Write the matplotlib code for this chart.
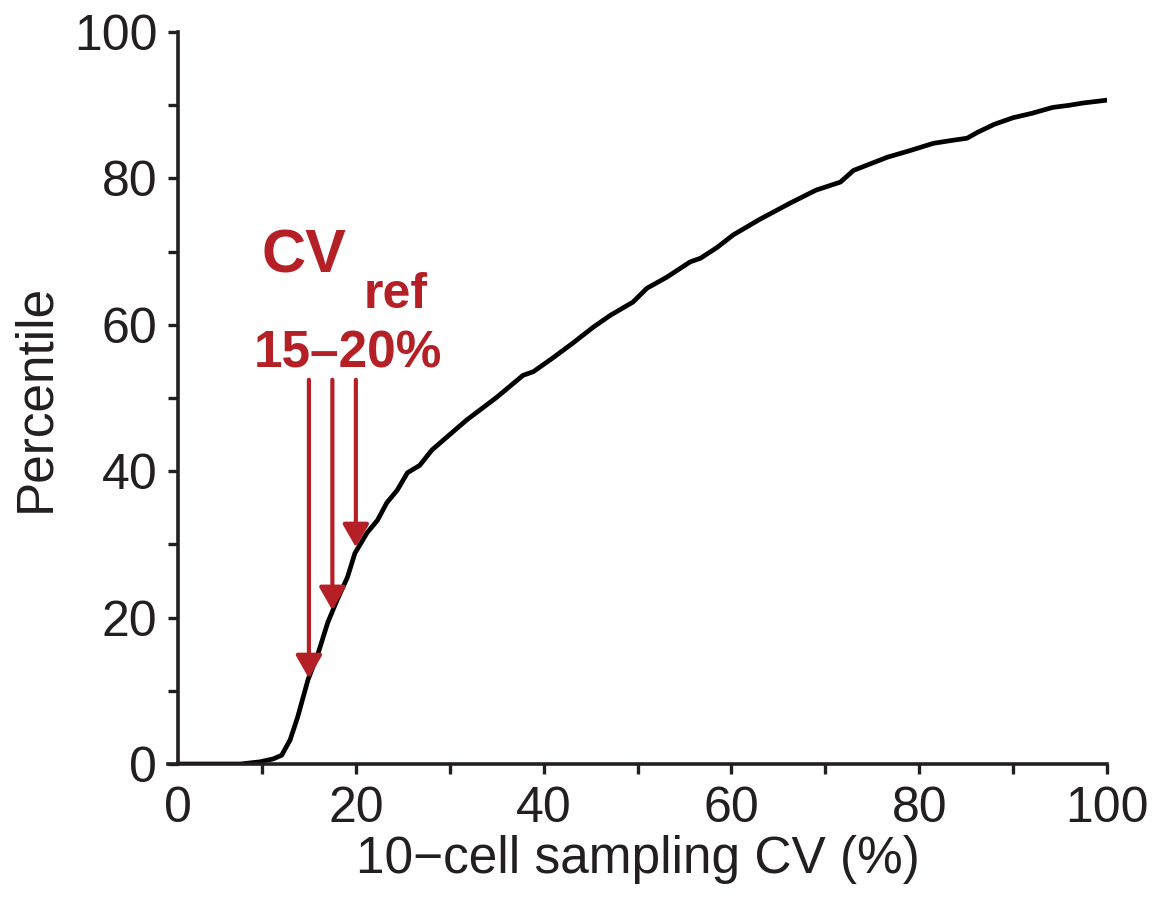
import matplotlib
matplotlib.use('Agg')
import matplotlib.pyplot as plt
import numpy as np

plt.rcParams['font.family'] = ['Liberation Sans', 'DejaVu Sans']

# curve (10-cell sampling CV %, percentile)
cv_x = [1.1, 7.7, 9.8, 11.2, 12.1, 13.0, 13.8, 14.9, 16.0, 17.0, 18.0, 19.1, 19.9,
        21.2, 22.3, 23.3, 24.4, 25.5, 26.8, 28.1, 29.0, 31.8, 35.0, 37.8, 38.9,
        41.0, 43.1, 45.3, 47.1, 49.5, 51.0, 53.1, 55.6, 56.7, 58.5, 60.2, 63.0,
        66.2, 69.0, 71.6, 73.0, 76.6, 79.0, 81.5, 83.5, 85.1, 86.2, 88.0, 90.0,
        92.0, 94.2, 96.0, 97.4, 100.0]
pct_y = [0.0, 0.0, 0.3, 0.7, 1.2, 3.3, 6.4, 11.5, 15.2, 19.3, 22.4, 25.5, 28.8,
         31.6, 33.3, 35.7, 37.4, 39.8, 40.8, 42.9, 43.9, 47.0, 50.1, 53.1, 53.6,
         55.5, 57.5, 59.7, 61.3, 63.1, 65.0, 66.5, 68.6, 69.1, 70.6, 72.3, 74.4,
         76.6, 78.4, 79.5, 81.1, 82.9, 83.8, 84.8, 85.2, 85.5, 86.3, 87.4, 88.3,
         88.9, 89.7, 90.0, 90.3, 90.7]

# CV_ref arrows: x position, tip, start
arrow_x = [15.0, 17.5, 20.0]
arrow_tip = [11.7, 21.0, 29.6]
arrow_top = 52.5

xticks = [1.07, 20, 40, 60, 80, 100]
xtick_labels = ['0', '20', '40', '60', '80', '100']
yticks = [0, 20, 40, 60, 80, 100]

axis_col = '#231f20'
red = '#b51f26'

fig = plt.figure(figsize=(11.55, 8.98), dpi=100)
ax = fig.add_axes([0.1455, 0.1492, 0.813, 0.8151])

ax.plot(cv_x, pct_y, color='black', lw=3.4, solid_joinstyle='round')

for x, tip in zip(arrow_x, arrow_tip):
    ax.annotate('', xy=(x, tip), xytext=(x, arrow_top),
                arrowprops=dict(arrowstyle='-|>,head_length=14,head_width=8',
                                mutation_scale=1, color=red, lw=3,
                                shrinkA=0, shrinkB=0))

ax.text(9.9, 67.2, 'CV', color=red, fontsize=44, fontweight='bold', va='baseline', ha='left')
ax.text(20.8, 62.3, 'ref', color=red, fontsize=36, fontweight='bold', va='baseline', ha='left')
ax.text(19.2, 54.2, '15–20%', color=red, fontsize=37, fontweight='bold', va='baseline', ha='center')

ax.set_xlim(0, 100)
ax.set_ylim(0, 100)
ax.spines['top'].set_visible(False)
ax.spines['right'].set_visible(False)
ax.spines['left'].set_position(('data', 1.07))
for s in ['left', 'bottom']:
    ax.spines[s].set_linewidth(2.6)
    ax.spines[s].set_color(axis_col)
    ax.spines[s].set_capstyle('projecting')

ax.set_xticks(xticks)
ax.set_xticklabels(xtick_labels)
ax.set_xticks(np.arange(10, 100, 20), minor=True)
ax.set_yticks(yticks)
ax.set_yticks(np.arange(10, 100, 20), minor=True)
ax.xaxis.get_major_ticks()[0].tick1line.set_visible(False)

ax.tick_params(which='both', direction='out', length=7, width=2.4, color=axis_col,
               labelsize=36, labelcolor=axis_col)
ax.tick_params(axis='x', which='major', pad=9)
ax.tick_params(axis='y', which='major', pad=8)

ax.set_xlabel('10−cell sampling CV (%)', fontsize=37, color=axis_col, labelpad=2)
ax.set_ylabel('Percentile', fontsize=37, color=axis_col, labelpad=10)

fig.savefig('out.png', dpi=100)
